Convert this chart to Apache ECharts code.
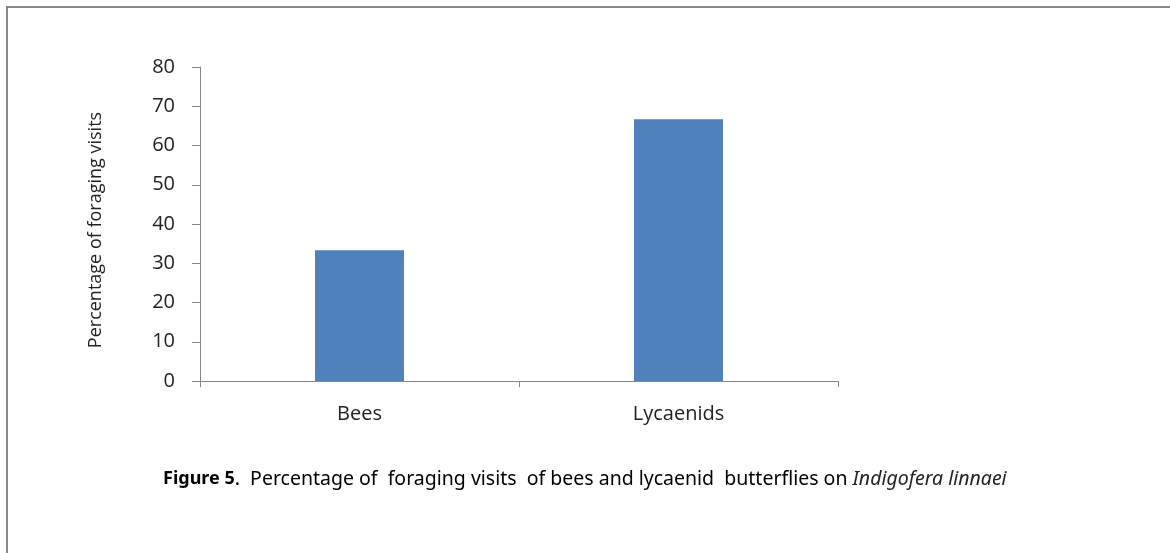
<!DOCTYPE html>
<html>
<head>
<meta charset="utf-8">
<script src="https://cdn.jsdelivr.net/npm/echarts@6/dist/echarts.min.js"></script>
<style>
html, body { margin: 0; padding: 0; background: #fff; }
#chart { width: 1170px; height: 553px; }
</style>
</head>
<body>
<div id="chart"></div>
<script>
var categories = ['Bees', 'Lycaenids'];
var visits = [33.3, 66.7];
var axisColor = '#888';
var fontName = 'Open Sans';
var captionFont = 'Noto Sans';

var myChart = echarts.init(document.getElementById('chart'));
var option = {
	animation: false,
	backgroundColor: '#fff',
	grid: {
		left: 200,
		right: 332,
		top: 67,
		bottom: 172
	},
	//外框
	graphic: [{
		type: 'rect',
		shape: { x: 7, y: 7, width: 1300, height: 700 },
		style: { fill: 'none', stroke: axisColor, lineWidth: 2 }
	}],
	title: {
		left: 158,
		top: 464,
		text: '{b|Figure 5}{n|.  Percentage of  foraging visits  of bees and lycaenid  butterflies on }{i|Indigofera linnaei}',
		textStyle: {
			rich: {
				b: { fontFamily: captionFont, fontSize: 18, fontWeight: 'bold', color: '#000' },
				n: { fontFamily: captionFont, fontSize: 19.5, fontWeight: 'normal', color: '#000' },
				i: { fontFamily: captionFont, fontSize: 19.5, fontWeight: 'normal', fontStyle: 'italic', color: '#222' }
			}
		}
	},
	xAxis: {
		type: 'category',
		data: categories,
		boundaryGap: true,
		axisLine: { show: true, lineStyle: { color: axisColor, width: 1 } },
		axisTick: { show: true, length: 6, lineStyle: { color: axisColor } },
		axisLabel: { margin: 23, fontFamily: fontName, fontSize: 20, color: '#222' }
	},
	yAxis: {
		type: 'value',
		min: 0,
		max: 80,
		interval: 10,
		name: 'Percentage of foraging visits',
		nameLocation: 'middle',
		nameRotate: 90,
		nameGap: 95,
		nameTextStyle: { fontFamily: fontName, fontSize: 18, color: '#222', padding: [0, 12, 0, 0] },
		axisLine: { show: true, lineStyle: { color: axisColor, width: 1 } },
		axisTick: { show: true, length: 8, lineStyle: { color: axisColor } },
		axisLabel: { margin: 25, fontFamily: fontName, fontSize: 20, color: '#222' },
		splitLine: { show: false }
	},
	series: [{
		type: 'bar',
		data: visits,
		barWidth: 89,
		itemStyle: { color: '#4f81bd' }
	}]
};
myChart.setOption(option);
</script>
</body>
</html>
